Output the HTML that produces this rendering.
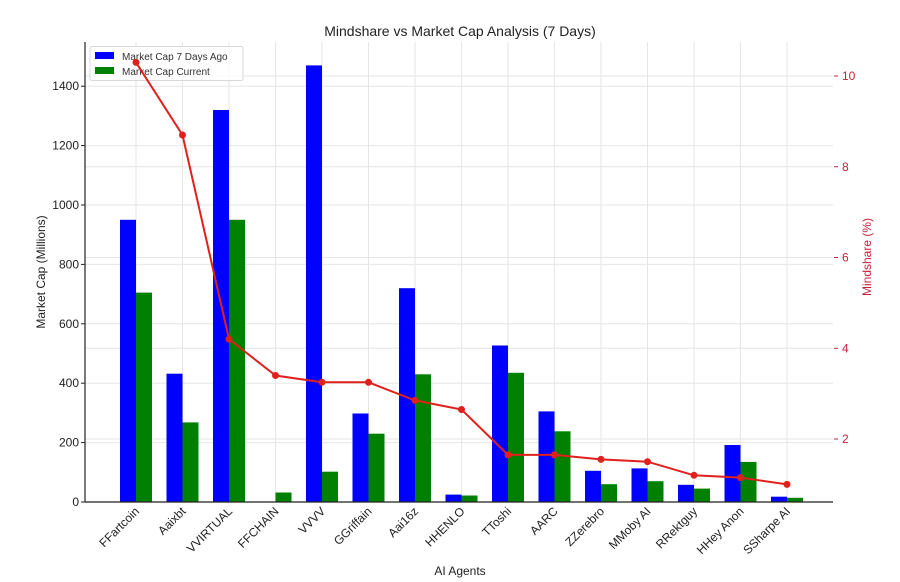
<!DOCTYPE html>
<html><head><meta charset="utf-8"><style>body{margin:0;background:#fff}svg{display:block}text{font-family:"Liberation Sans","DejaVu Sans",sans-serif}</style></head><body>
<svg width="900" height="582" viewBox="0 0 900 582" xmlns="http://www.w3.org/2000/svg">
<g stroke="#e6e6e6" stroke-width="1">
<line x1="85" x2="833" y1="442.6" y2="442.6"/><line x1="85" x2="833" y1="383.2" y2="383.2"/><line x1="85" x2="833" y1="323.8" y2="323.8"/><line x1="85" x2="833" y1="264.4" y2="264.4"/><line x1="85" x2="833" y1="205" y2="205"/><line x1="85" x2="833" y1="145.6" y2="145.6"/><line x1="85" x2="833" y1="86.2" y2="86.2"/>
<line x1="85" x2="833" y1="439" y2="439"/><line x1="85" x2="833" y1="348.3" y2="348.3"/><line x1="85" x2="833" y1="257.5" y2="257.5"/><line x1="85" x2="833" y1="166.75" y2="166.75"/><line x1="85" x2="833" y1="76" y2="76"/>
<line x1="136" x2="136" y1="42" y2="502"/><line x1="182.5" x2="182.5" y1="42" y2="502"/><line x1="229" x2="229" y1="42" y2="502"/><line x1="275.5" x2="275.5" y1="42" y2="502"/><line x1="322" x2="322" y1="42" y2="502"/><line x1="368.5" x2="368.5" y1="42" y2="502"/><line x1="415" x2="415" y1="42" y2="502"/><line x1="461.5" x2="461.5" y1="42" y2="502"/><line x1="508" x2="508" y1="42" y2="502"/><line x1="554.5" x2="554.5" y1="42" y2="502"/><line x1="601" x2="601" y1="42" y2="502"/><line x1="647.5" x2="647.5" y1="42" y2="502"/><line x1="694" x2="694" y1="42" y2="502"/><line x1="740.5" x2="740.5" y1="42" y2="502"/><line x1="787" x2="787" y1="42" y2="502"/>
</g>
<g fill="#0000ff">
<rect x="120" y="219.8" width="16" height="282.2"/><rect x="166.5" y="373.7" width="16" height="128.3"/><rect x="213" y="110" width="16" height="392"/><rect x="306" y="65.4" width="16" height="436.6"/><rect x="352.5" y="413.5" width="16" height="88.5"/><rect x="399" y="288.2" width="16" height="213.8"/><rect x="445.5" y="494.6" width="16" height="7.4"/><rect x="492" y="345.5" width="16" height="156.5"/><rect x="538.5" y="411.4" width="16" height="90.6"/><rect x="585" y="470.8" width="16" height="31.2"/><rect x="631.5" y="468.4" width="16" height="33.6"/><rect x="678" y="484.8" width="16" height="17.2"/><rect x="724.5" y="445" width="16" height="57"/><rect x="771" y="496.7" width="16" height="5.3"/>
</g>
<g fill="#008000">
<rect x="136" y="292.6" width="16" height="209.4"/><rect x="182.5" y="422.4" width="16" height="79.6"/><rect x="229" y="219.8" width="16" height="282.2"/><rect x="275.5" y="492.5" width="16" height="9.5"/><rect x="322" y="471.7" width="16" height="30.3"/><rect x="368.5" y="433.7" width="16" height="68.3"/><rect x="415" y="374.3" width="16" height="127.7"/><rect x="461.5" y="495.5" width="16" height="6.5"/><rect x="508" y="372.8" width="16" height="129.2"/><rect x="554.5" y="431.3" width="16" height="70.7"/><rect x="601" y="484.2" width="16" height="17.8"/><rect x="647.5" y="481.2" width="16" height="20.8"/><rect x="694" y="488.6" width="16" height="13.4"/><rect x="740.5" y="461.9" width="16" height="40.1"/><rect x="787" y="497.8" width="16" height="4.2"/>
</g>
<g stroke="#222" stroke-width="1.2"><line x1="85" y1="42" x2="85" y2="502"/><line x1="85" y1="502" x2="833" y2="502"/></g>
<rect x="90" y="46.5" width="153" height="34" fill="#fff" fill-opacity="0.8" stroke="#d8d8d8" rx="2"/>
<rect x="95" y="52" width="19" height="7" fill="#0000ff"/><text x="122" y="60" font-size="10" fill="#333">Market Cap 7 Days Ago</text>
<rect x="95" y="67" width="19" height="7" fill="#008000"/><text x="122" y="75" font-size="10" fill="#333">Market Cap Current</text>
<g fill="#e0201c" stroke="#e0201c">
<polyline fill="none" stroke-width="2" points="136,62.4 182.5,135 229,339.2 275.5,375.5 322,382.3 368.5,382.3 415,400.4 461.5,409.5 508,454.9 554.5,454.9 601,459.4 647.5,461.7 694,475.3 740.5,477.6 787,484.4"/>
<circle cx="136" cy="62.4" r="3"/><circle cx="182.5" cy="135" r="3"/><circle cx="229" cy="339.2" r="3"/><circle cx="275.5" cy="375.5" r="3"/><circle cx="322" cy="382.3" r="3"/><circle cx="368.5" cy="382.3" r="3"/><circle cx="415" cy="400.4" r="3"/><circle cx="461.5" cy="409.5" r="3"/><circle cx="508" cy="454.9" r="3"/><circle cx="554.5" cy="454.9" r="3"/><circle cx="601" cy="459.4" r="3"/><circle cx="647.5" cy="461.7" r="3"/><circle cx="694" cy="475.3" r="3"/><circle cx="740.5" cy="477.6" r="3"/><circle cx="787" cy="484.4" r="3"/>
</g>
<g font-size="12" fill="#222" text-anchor="end">
<text x="79" y="506">0</text><text x="79" y="446.6">200</text><text x="79" y="387.2">400</text><text x="79" y="327.8">600</text><text x="79" y="268.4">800</text><text x="79" y="209">1000</text><text x="79" y="149.6">1200</text><text x="79" y="90.2">1400</text>
</g>
<g stroke="#222"><line x1="81" x2="85" y1="502" y2="502"/><line x1="81" x2="85" y1="442.6" y2="442.6"/><line x1="81" x2="85" y1="383.2" y2="383.2"/><line x1="81" x2="85" y1="323.8" y2="323.8"/><line x1="81" x2="85" y1="264.4" y2="264.4"/><line x1="81" x2="85" y1="205" y2="205"/><line x1="81" x2="85" y1="145.6" y2="145.6"/><line x1="81" x2="85" y1="86.2" y2="86.2"/></g>
<g stroke="#c8203a"><line x1="834" x2="838" y1="439" y2="439"/><line x1="834" x2="838" y1="348.3" y2="348.3"/><line x1="834" x2="838" y1="257.5" y2="257.5"/><line x1="834" x2="838" y1="166.75" y2="166.75"/><line x1="834" x2="838" y1="76" y2="76"/></g>
<g font-size="12" fill="#c8203a">
<text x="842" y="443">2</text><text x="842" y="352.3">4</text><text x="842" y="261.5">6</text><text x="842" y="170.75">8</text><text x="842" y="80">10</text>
</g>
<g font-size="12" fill="#222" text-anchor="end">
<text transform="translate(140,512) rotate(-45)">FFartcoin</text>
<text transform="translate(186.5,512) rotate(-45)">Aaixbt</text>
<text transform="translate(233,512) rotate(-45)">VVIRTUAL</text>
<text transform="translate(279.5,512) rotate(-45)">FFCHAIN</text>
<text transform="translate(326,512) rotate(-45)">VVVV</text>
<text transform="translate(372.5,512) rotate(-45)">GGriffain</text>
<text transform="translate(419,512) rotate(-45)">Aai16z</text>
<text transform="translate(465.5,512) rotate(-45)">HHENLO</text>
<text transform="translate(512,512) rotate(-45)">TToshi</text>
<text transform="translate(558.5,512) rotate(-45)">AARC</text>
<text transform="translate(605,512) rotate(-45)">ZZerebro</text>
<text transform="translate(651.5,512) rotate(-45)">MMoby AI</text>
<text transform="translate(698,512) rotate(-45)">RRektguy</text>
<text transform="translate(744.5,512) rotate(-45)">HHey Anon</text>
<text transform="translate(791,512) rotate(-45)">SSharpe AI</text>
</g>
<text x="460" y="36" font-size="14" text-anchor="middle" fill="#222">Mindshare vs Market Cap Analysis (7 Days)</text>
<text x="460" y="575" font-size="12" text-anchor="middle" fill="#222">AI Agents</text>
<text transform="translate(45,272) rotate(-90)" font-size="12" text-anchor="middle" fill="#222">Market Cap (Millions)</text>
<text transform="translate(871,257) rotate(-90)" font-size="12" text-anchor="middle" fill="#c8203a">Mindshare (%)</text>
</svg>
</body></html>
